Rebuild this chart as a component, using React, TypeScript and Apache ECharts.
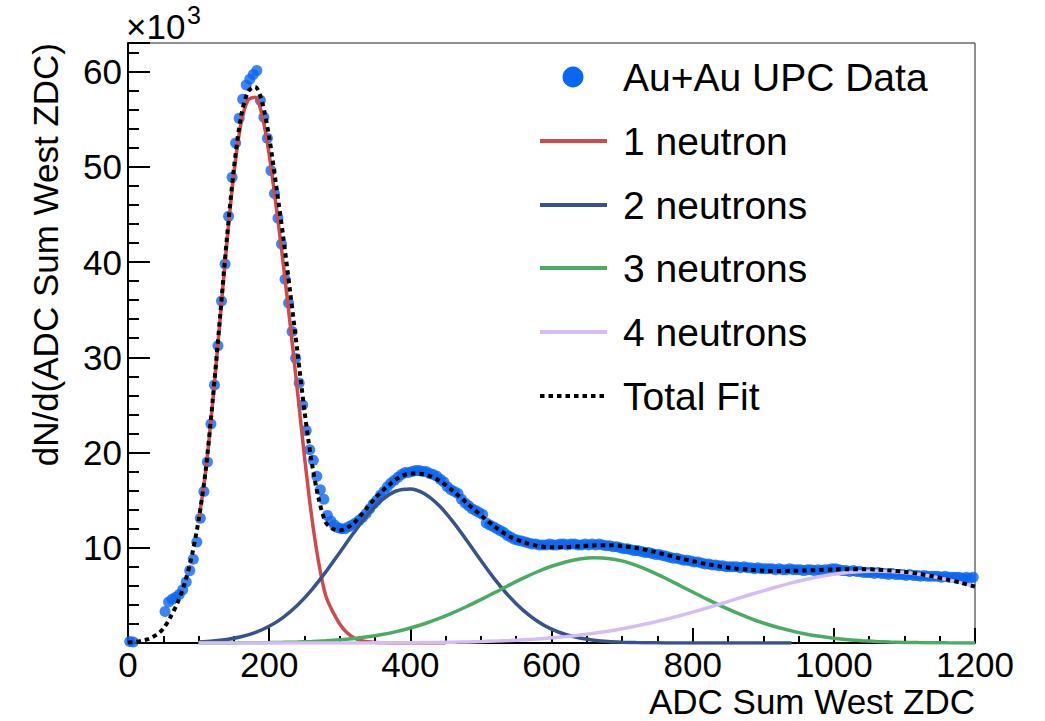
import React, { useEffect, useRef } from "react";
import * as echarts from "echarts";

// ---------- data (values in units of 10^3) ----------
const BIN_WIDTH = 5;
const DATA_START = 52.5;
const lowBinX = [2.5, 7.5];
const lowBinY = [0.15, 0.1];
const dataY = [
  3.3, 4.3, 4.6, 4.8, 5.1, 5.6, 6.4, 7.6, 8.8, 10.6,
  13.1, 15.9, 19.0, 23.0, 27.1, 31.2, 35.9, 39.8, 44.8, 48.9,
  52.5, 55.1, 57.1, 58.6, 59.2, 59.7, 60.1, 57.0, 55.2, 53.0,
  49.6, 47.2, 44.6, 41.9, 38.2, 35.7, 32.7, 29.9, 27.3, 25.0,
  22.3, 20.3, 19.2, 17.5, 16.1, 15.1, 13.4, 12.8, 12.4, 12.1,
  12.0, 12.0, 12.2, 12.4, 12.6, 12.9, 13.2, 13.6, 14.1, 14.6,
  15.0, 15.5, 15.9, 16.4, 16.8, 17.1, 17.4, 17.7, 17.9, 17.9,
  18.0, 18.1, 18.1, 18.0, 18.0, 17.8, 17.7, 17.5, 17.2, 16.9,
  16.4, 16.1, 15.9, 15.7, 15.1, 14.7, 14.4, 14.1, 13.9, 13.7,
  13.5, 12.6, 12.4, 12.2, 12.0, 11.8, 11.6, 11.3, 11.1, 10.9,
  10.8, 10.7, 10.6, 10.5, 10.4, 10.4, 10.3, 10.3, 10.3, 10.4,
  10.3, 10.3, 10.4, 10.4, 10.3, 10.4, 10.4, 10.3, 10.3, 10.4,
  10.3, 10.4, 10.3, 10.4, 10.3, 10.2, 10.2, 10.1, 10.1, 10.0,
  9.9, 9.9, 9.8, 9.7, 9.7, 9.6, 9.5, 9.5, 9.4, 9.3,
  9.3, 9.2, 9.1, 9.0, 8.9, 8.9, 8.8, 8.7, 8.7, 8.6,
  8.5, 8.5, 8.4, 8.3, 8.3, 8.2, 8.2, 8.1, 8.1, 8.0,
  8.0, 8.0, 8.0, 7.9, 8.0, 7.9, 7.9, 7.8, 7.9, 7.8,
  7.8, 7.8, 7.8, 7.7, 7.8, 7.7, 7.7, 7.8, 7.7, 7.7,
  7.7, 7.6, 7.7, 7.7, 7.6, 7.7, 7.6, 7.7, 7.7, 7.8,
  7.8, 7.7, 7.6, 7.6, 7.5, 7.6, 7.5, 7.5, 7.4, 7.4,
  7.4, 7.3, 7.4, 7.3, 7.3, 7.2, 7.3, 7.2, 7.2, 7.2,
  7.1, 7.2, 7.1, 7.1, 7.0, 7.1, 7.0, 7.0, 7.0, 7.0,
  6.9, 7.0, 6.9, 6.9, 6.9, 6.9, 6.8, 6.9, 6.8, 6.9,
];

const redX = [
  100, 110, 120, 130, 140, 150, 160, 170, 180, 190,
  200, 210, 220, 230, 240, 250, 260, 270, 280, 290,
  300, 310, 320, 330, 340, 350, 360, 370, 380, 420, 450,
];
const redY = [
  12.8, 18.0, 25.3, 33.6, 42.0, 49.3, 54.5, 57.0, 57.3, 55.4,
  51.3, 45.8, 39.8, 33.3, 26.5, 19.6, 13.4, 8.5, 5.0, 3.3,
  2.0, 1.1, 0.55, 0.27, 0.13, 0.06, 0.03, 0.01, 0, 0, 0,
];

const compX = [
  100, 120, 140, 160, 180, 200, 220, 240, 260, 280,
  300, 320, 340, 360, 380, 400, 420, 440, 460, 480,
  500, 520, 540, 560, 580, 600, 620, 640, 660, 680,
  700, 720, 740, 760, 780, 800, 820, 840, 860, 880,
  900, 920, 940, 960, 980, 1000, 1020, 1040, 1060, 1080,
  1100, 1120, 1140, 1160, 1180, 1200,
];
const blueY = [
  0.10, 0.20, 0.37, 0.65, 1.09, 1.76, 2.70, 3.97, 5.56, 7.44,
  9.51, 11.6, 13.51, 15.03, 15.96, 16.18, 15.67, 14.48, 12.78, 10.77,
  8.67, 6.66, 4.89, 3.42, 2.29, 1.46, 0.89, 0.52, 0.29, 0.15,
  0.08, 0.04, 0.02, 0.01, 0, 0, 0, 0, 0, 0,
  0, 0, 0,
];
const greenY = [
  0.003, 0.006, 0.01, 0.016, 0.026, 0.042, 0.066, 0.10, 0.15, 0.23,
  0.33, 0.47, 0.65, 0.89, 1.19, 1.57, 2.02, 2.55, 3.16, 3.83,
  4.56, 5.31, 6.08, 6.81, 7.48, 8.06, 8.51, 8.81, 8.94, 8.88,
  8.62, 8.15, 7.55, 6.85, 6.1, 5.35, 4.6, 3.9, 3.25, 2.65,
  2.1, 1.65, 1.27, 0.95, 0.7, 0.5, 0.35, 0.24, 0.16, 0.1,
  0.065, 0.04, 0.025, 0.015, 0.009, 0.005,
];
const lavY = [
  0, 0, 0, 0, 0, 0, 0, 0.001, 0.002, 0.003,
  0.005, 0.008, 0.012, 0.017, 0.023, 0.03, 0.045, 0.062, 0.084, 0.113,
  0.15, 0.197, 0.257, 0.33, 0.42, 0.54, 0.67, 0.83, 1.02, 1.24,
  1.49, 1.78, 2.10, 2.45, 2.83, 3.24, 3.68, 4.12, 4.58, 5.04,
  5.48, 5.91, 6.31, 6.66, 6.97, 7.22, 7.40, 7.51, 7.55, 7.51,
  7.40, 7.22, 6.97, 6.66, 6.31, 5.91,
];

const totalX = [
  0, 10, 20, 30, 40, 50, 60, 70, 80, 90,
  100, 110, 120, 130, 140, 150, 160, 170, 180, 190,
  200, 210, 220, 230, 240, 250, 260, 270, 280, 290,
  300, 310, 320, 330, 340, 350, 360, 370, 380, 390,
  400,
  420, 440, 460, 480, 500, 520, 540, 560, 580, 600,
  620, 640, 660, 680, 700, 720, 740, 760, 780, 800,
  820, 840, 860, 880, 900, 920, 940, 960, 980, 1000,
  1020, 1040, 1060, 1080, 1100, 1120, 1140, 1160, 1180, 1200,
];
const totalY = [
  0.05, 0.12, 0.25, 0.45, 0.85, 1.5, 2.7, 4.2, 6.2, 9.0,
  12.9, 18.1, 25.5, 33.9, 42.4, 49.8, 55.2, 57.9, 58.4, 56.8,
  53.1, 48.0, 42.6, 36.7, 30.6, 24.4, 19.1, 15.2, 12.7, 12.0,
  11.8, 12.1, 12.6, 13.4, 14.3, 15.2, 15.95, 16.6, 17.2, 17.6,
  17.8,
  17.7, 17.1, 16.0, 14.7, 13.4, 12.2, 11.2, 10.6, 10.2, 10.06,
  10.07, 10.16, 10.25, 10.27, 10.19, 9.97, 9.67, 9.31, 8.93, 8.59,
  8.28, 8.02, 7.83, 7.69, 7.58, 7.56, 7.58, 7.61, 7.67, 7.72,
  7.75, 7.75, 7.71, 7.61, 7.47, 7.26, 7.0, 6.68, 6.32, 5.92,
];

const legendLabels = ["Au+Au UPC Data", "1 neutron", "2 neutrons", "3 neutrons", "4 neutrons", "Total Fit"];
const xTitle = "ADC Sum West ZDC";
const yTitle = "dN/d(ADC Sum West ZDC)";

// ---------- styles ----------
const FONT = "'Liberation Sans', Arial, Helvetica, sans-serif";
const C_DATA = "#0a66f4";
const C_RED = "#cf4a4a";
const C_BLUE = "#36538c";
const C_GREEN = "#4aac63";
const C_LAV = "#d5bdf3";
const C_TOTAL = "#000000";
const DOT_PATTERN = [4.5, 4];

function pairs(xs: number[], ys: number[]) {
  return ys.map((y, i) => [xs[i], y]);
}

export default function App() {
  const ref = useRef<HTMLDivElement>(null);
  useEffect(() => {
    if (!ref.current) return;
    const chart = echarts.init(ref.current, undefined, { renderer: "svg" });

    const scatterData = [
      ...lowBinY.map((y, i) => [lowBinX[i], y]),
      ...dataY.map((y, i) => [DATA_START + i * BIN_WIDTH, y]),
    ];

    const lineSeries = (name: string, data: number[][], color: string, z: number, dashed = false) => ({
      name,
      type: "line",
      data,
      showSymbol: false,
      smooth: 0.3,
      silent: true,
      z,
      clip: true,
      lineStyle: dashed
        ? { color, width: 4, type: DOT_PATTERN, cap: "butt" }
        : { color, width: 3.5 },
    });

    const legendRowsY = [77, 141, 205, 268, 332, 396];
    const legendColors = [C_DATA, C_RED, C_BLUE, C_GREEN, C_LAV, C_TOTAL];
    const legendGraphics: any[] = [];
    legendRowsY.forEach((y, i) => {
      if (i === 0) {
        legendGraphics.push({ type: "circle", shape: { cx: 573, cy: y, r: 10.5 }, style: { fill: legendColors[i] } });
      } else if (i === 5) {
        legendGraphics.push({
          type: "line",
          shape: { x1: 540, y1: y, x2: 607, y2: y },
          style: { stroke: legendColors[i], lineWidth: 4, lineDash: DOT_PATTERN },
        });
      } else {
        legendGraphics.push({
          type: "line",
          shape: { x1: 540, y1: y, x2: 607, y2: y },
          style: { stroke: legendColors[i], lineWidth: 4 },
        });
      }
      legendGraphics.push({
        type: "text",
        x: 623,
        y,
        style: { text: legendLabels[i], fontSize: 39, fontFamily: FONT, fill: "#000", textAlign: "left", textVerticalAlign: "middle" },
      });
    });

    const option: any = {
      animation: false,
      backgroundColor: "#ffffff",
      grid: { left: 128, right: 70, top: 43, bottom: 78, show: true, borderColor: "#222", borderWidth: 1 },
      xAxis: {
        type: "value",
        min: 0,
        max: 1200,
        interval: 200,
        axisLine: { show: true, onZero: false, lineStyle: { color: "#000", width: 2 } },
        axisTick: { show: true, inside: true, length: 15, lineStyle: { color: "#000", width: 2 } },
        minorTick: { show: true, splitNumber: 4, length: 7, lineStyle: { color: "#000", width: 2 } },
        axisLabel: { fontSize: 35, color: "#000", fontFamily: FONT, margin: 4, formatter: (v: number) => String(v) },
        splitLine: { show: false },
        minorSplitLine: { show: false },
      },
      yAxis: [
        {
          type: "value",
          min: 0,
          max: 63,
          interval: 10,
          position: "left",
          axisLine: { show: true, onZero: false, lineStyle: { color: "#000", width: 2 } },
          axisTick: { show: true, inside: true, length: 22, lineStyle: { color: "#000", width: 2 } },
          axisLabel: {
            formatter: (v: number) => (v > 0 && v % 10 === 0 ? String(v) : ""),
            fontSize: 35,
            color: "#000",
            fontFamily: FONT,
            margin: 6,
          },
          splitLine: { show: false },
        },
        {
          type: "value",
          min: 0,
          max: 63,
          interval: 2,
          position: "left",
          axisLine: { show: false },
          axisTick: { show: true, inside: true, length: 11, lineStyle: { color: "#000", width: 2 } },
          axisLabel: { show: false },
          splitLine: { show: false },
        },
      ],
      series: [
        {
          name: legendLabels[0],
          type: "scatter",
          data: scatterData,
          symbol: "circle",
          symbolSize: 11,
          itemStyle: { color: C_DATA },
          silent: true,
          z: 2,
        },
        lineSeries(legendLabels[1], pairs(redX, redY), C_RED, 3),
        lineSeries(legendLabels[2], pairs(compX, blueY), C_BLUE, 4),
        lineSeries(legendLabels[3], pairs(compX, greenY), C_GREEN, 5),
        lineSeries(legendLabels[4], pairs(compX, lavY), C_LAV, 6),
        lineSeries(legendLabels[5], pairs(totalX, totalY), C_TOTAL, 7, true),
      ],
      graphic: [
        {
          type: "text",
          x: 126,
          y: 26,
          style: { text: "×10", fontSize: 35, fontFamily: FONT, fill: "#000", textAlign: "left", textVerticalAlign: "middle" },
        },
        {
          type: "text",
          x: 187,
          y: 15,
          style: { text: "3", fontSize: 25, fontFamily: FONT, fill: "#000", textAlign: "left", textVerticalAlign: "middle" },
        },
        {
          type: "text",
          x: 975,
          y: 701,
          style: { text: xTitle, fontSize: 35, fontFamily: FONT, fill: "#000", textAlign: "right", textVerticalAlign: "middle" },
        },
        {
          type: "text",
          x: 45,
          y: 43,
          rotation: Math.PI / 2,
          style: { text: yTitle, fontSize: 35, fontFamily: FONT, fill: "#000", textAlign: "right", textVerticalAlign: "middle" },
        },
        ...legendGraphics,
      ],
    };

    chart.setOption(option);
    return () => chart.dispose();
  }, []);

  return (
    <div
      ref={ref}
      style={{ position: "fixed", left: 0, top: 0, width: 1045, height: 721, background: "#fff" }}
    />
  );
}
